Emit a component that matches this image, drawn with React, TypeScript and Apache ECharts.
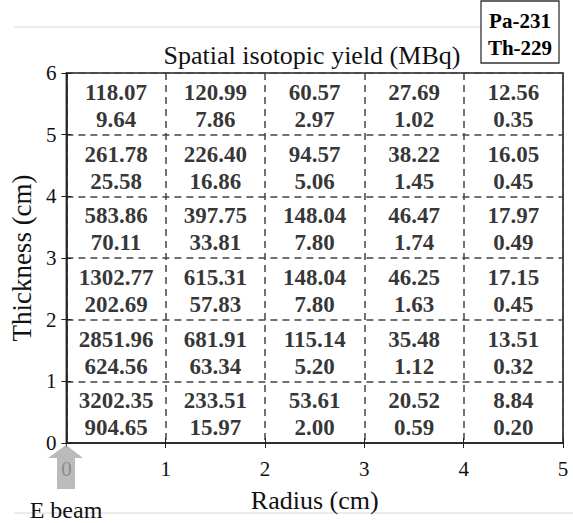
import React, { useEffect, useRef } from "react";
import * as echarts from "echarts";

const radiusTicks = [0, 1, 2, 3, 4, 5];
const thicknessTicks = [0, 1, 2, 3, 4, 5, 6];
// rows from thickness 0-1 (bottom) to 5-6 (top); columns radius 0-1 ... 4-5
const pa231 = [
  [3202.35, 233.51, 53.61, 20.52, 8.84],
  [2851.96, 681.91, 115.14, 35.48, 13.51],
  [1302.77, 615.31, 148.04, 46.25, 17.15],
  [583.86, 397.75, 148.04, 46.47, 17.97],
  [261.78, 226.4, 94.57, 38.22, 16.05],
  [118.07, 120.99, 60.57, 27.69, 12.56],
];
const th229 = [
  [904.65, 15.97, 2.0, 0.59, 0.2],
  [624.56, 63.34, 5.2, 1.12, 0.32],
  [202.69, 57.83, 7.8, 1.63, 0.45],
  [70.11, 33.81, 7.8, 1.74, 0.49],
  [25.58, 16.86, 5.06, 1.45, 0.45],
  [9.64, 7.86, 2.97, 1.02, 0.35],
];
const titleText = "Spatial isotopic yield (MBq)";
const legendLines = ["Pa-231", "Th-229"];

const FONT = "Liberation Serif";

export default function App() {
  const ref = useRef<HTMLDivElement>(null);
  useEffect(() => {
    if (!ref.current) return;
    const chart = echarts.init(ref.current, null, { renderer: "svg" });
    const data: any[] = [];
    pa231.forEach((row, r) =>
      row.forEach((v, c) => {
        data.push([c + 0.5, r + 0.5, v, th229[r][c]]);
      })
    );
    const gl = 65, gr = 563, gt = 73, gb = 443;
    const dash = { color: "#444", type: [7, 5], width: 1.5 };
    chart.setOption({
      animation: false,
      textStyle: { fontFamily: FONT },
      grid: {
        left: gl,
        right: 573 - gr,
        top: gt,
        bottom: 523 - gb,
        show: true,
        borderColor: "#222",
        borderWidth: 1.6,
      },
      xAxis: [
        {
          type: "value",
          min: 0,
          max: 5,
          interval: 1,
          name: "Radius (cm)",
          nameLocation: "middle",
          nameGap: 44,
          nameTextStyle: { fontFamily: FONT, fontSize: 26, color: "#111" },
          axisLine: { show: true, onZero: false, lineStyle: { color: "#222", width: 1.6 } },
          axisTick: { show: true, inside: true, length: 5, lineStyle: { color: "#222" } },
          axisLabel: {
            fontFamily: FONT,
            fontSize: 21,
            color: "#111",
            margin: 15,
            formatter: (v: number) => (radiusTicks.includes(v) ? String(v) : ""),
          },
          splitLine: { show: true, lineStyle: dash },
        },
        {
          type: "value",
          position: "top",
          min: 0,
          max: 5,
          interval: 1,
          axisLine: { show: false },
          axisTick: { show: true, inside: true, length: 5, lineStyle: { color: "#222" } },
          axisLabel: { show: false },
          splitLine: { show: false },
        },
      ],
      yAxis: [
        {
          type: "value",
          min: 0,
          max: 6,
          interval: 1,
          name: "Thickness (cm)",
          nameLocation: "middle",
          nameGap: 28,
          nameTextStyle: { fontFamily: FONT, fontSize: 27, color: "#111" },
          axisLine: { show: true, onZero: false, lineStyle: { color: "#222", width: 1.6 } },
          axisTick: { show: true, inside: true, length: 5, lineStyle: { color: "#222" } },
          axisLabel: {
            fontFamily: FONT,
            fontSize: 21,
            color: "#111",
            margin: 10,
            verticalAlign: "middle",
            padding: [7, 0, 0, 0],
            formatter: (v: number) => (thicknessTicks.includes(v) ? String(v) : ""),
          },
          splitLine: { show: true, lineStyle: dash },
        },
        {
          type: "value",
          position: "right",
          min: 0,
          max: 6,
          interval: 1,
          axisLine: { show: false },
          axisTick: { show: true, inside: true, length: 5, lineStyle: { color: "#222" } },
          axisLabel: { show: false },
          splitLine: { show: false },
        },
      ],
      series: [
        {
          type: "scatter",
          xAxisIndex: 0,
          yAxisIndex: 0,
          symbolSize: 0,
          data,
          label: {
            show: true,
            position: "inside",
            offset: [0, 2],
            formatter: (p: any) =>
              `{v|${p.value[2].toFixed(2)}}\n{v|${p.value[3].toFixed(2)}}`,
            rich: {
              v: {
                fontFamily: FONT,
                fontSize: 23,
                fontWeight: "bold",
                color: "#000",
                lineHeight: 27,
                align: "center",
              },
            },
          },
        },
      ],
      graphic: [
        {
          type: "line",
          shape: { x1: 14, y1: 27, x2: 481, y2: 27 },
          style: { stroke: "#d8d8d8", lineWidth: 1 },
        },
        {
          type: "line",
          shape: { x1: 14, y1: 513, x2: 573, y2: 513 },
          style: { stroke: "#d8d8d8", lineWidth: 1 },
        },
        {
          type: "text",
          x: 312,
          y: 55,
          style: {
            text: titleText,
            fontFamily: FONT,
            fontSize: 26,
            fill: "#111",
            align: "center",
            verticalAlign: "middle",
          },
        },
        {
          type: "rect",
          shape: { x: 481, y: 1, width: 78, height: 62 },
          style: { fill: "#fff", stroke: "#333", lineWidth: 1.3 },
        },
        {
          type: "text",
          x: 520,
          y: 21,
          style: {
            text: legendLines[0],
            fontFamily: FONT,
            fontSize: 21,
            fontWeight: "bold",
            fill: "#000",
            align: "center",
            verticalAlign: "middle",
          },
        },
        {
          type: "text",
          x: 520,
          y: 48,
          style: {
            text: legendLines[1],
            fontFamily: FONT,
            fontSize: 21,
            fontWeight: "bold",
            fill: "#000",
            align: "center",
            verticalAlign: "middle",
          },
        },
        {
          type: "polygon",
          shape: {
            points: [
              [66, 445],
              [83, 458],
              [75, 458],
              [75, 489],
              [57, 489],
              [57, 458],
              [48, 458],
            ],
          },
          style: { fill: "rgba(170,170,170,0.8)" },
          z: 100,
        },
        {
          type: "text",
          x: 66,
          y: 510,
          style: {
            text: "E beam",
            fontFamily: FONT,
            fontSize: 24,
            fill: "#111",
            align: "center",
            verticalAlign: "middle",
          },
        },
      ],
    });
    return () => chart.dispose();
  }, []);
  return (
    <div
      ref={ref}
      style={{ position: "absolute", left: 0, top: 0, width: 573, height: 523 }}
    />
  );
}
